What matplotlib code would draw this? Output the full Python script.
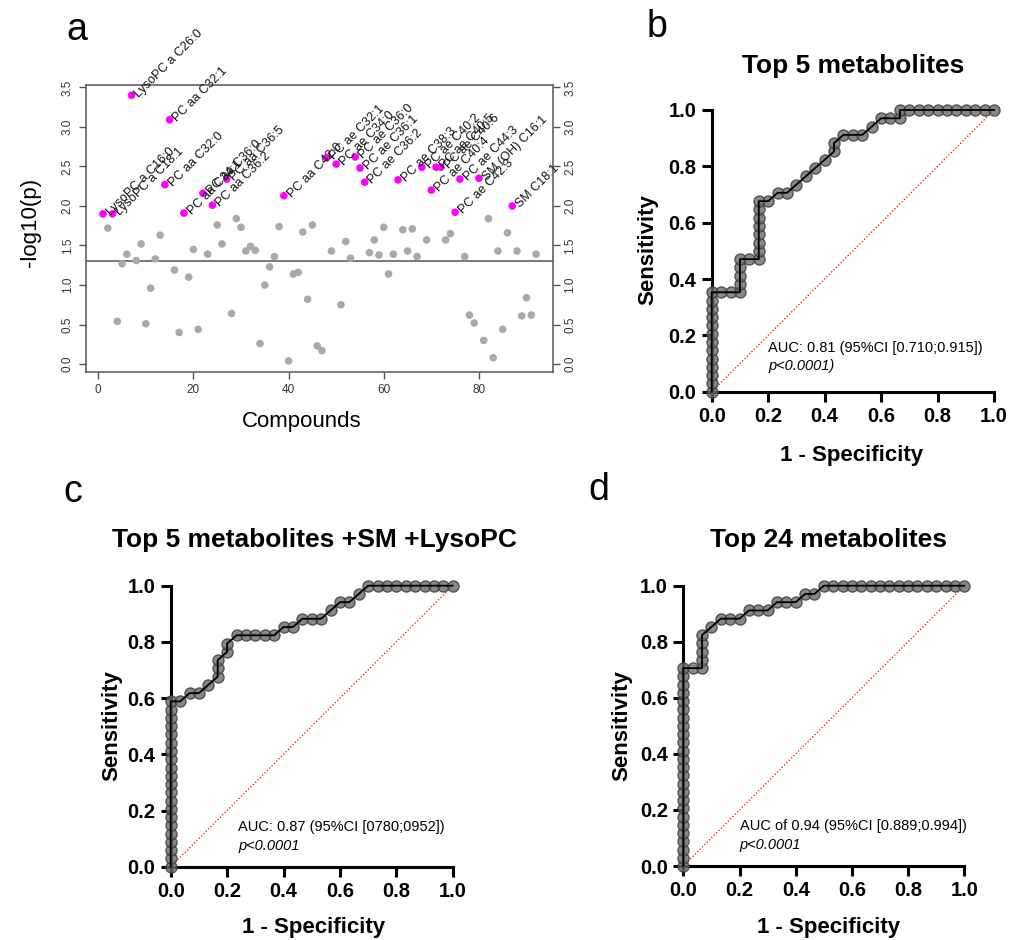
import numpy as np
import matplotlib.pyplot as plt
from matplotlib import font_manager

plt.rcParams['font.family'] = ['Liberation Sans', 'DejaVu Sans']

# ---- panel a: -log10(p) for compounds 1..92
neglog_p = [1.90, 1.72, 1.90, 0.54, 1.27, 1.39, 3.40, 1.31, 1.52, 0.51,
            0.96, 1.33, 1.63, 2.27, 3.09, 1.19, 0.40, 1.91, 1.10, 1.45,
            0.44, 2.16, 1.39, 2.01, 1.76, 1.52, 2.34, 0.64, 1.84, 1.73,
            1.43, 1.49, 1.44, 0.26, 1.00, 1.23, 1.36, 1.74, 2.13, 0.04,
            1.14, 1.16, 1.67, 0.82, 1.76, 0.23, 0.17, 2.61, 1.43, 2.53,
            0.75, 1.55, 1.34, 2.62, 2.48, 2.30, 1.41, 1.57, 1.38, 1.73,
            1.14, 1.39, 2.33, 1.70, 1.43, 1.71, 1.36, 2.49, 1.57, 2.20,
            2.49, 2.49, 1.57, 1.65, 1.92, 2.34, 1.36, 0.62, 0.52, 2.35,
            0.30, 1.84, 0.08, 1.43, 0.44, 1.66, 2.00, 1.43, 0.61, 0.84,
            0.62, 1.39]

hi_idx = [1, 3, 7, 14, 15, 18, 22, 24, 27, 39, 48, 50, 54, 55, 56, 63,
          68, 70, 71, 72, 75, 76, 80, 87]
hi_labels = ["LysoPC a C16:0", "LysoPC a C18:1", "LysoPC a C26:0",
             "PC aa C32:0", "PC aa C32:1", "PC aa C34:1", "PC aa C36:0",
             "PC aa C36:2", "PC aa C36:5", "PC aa C42:0", "PC ae C32:1",
             "PC ae C34:0", "PC ae C36:0", "PC ae C36:1", "PC ae C36:2",
             "PC ae C38:3", "PC ae C40:2", "PC ae C40:4", "PC ae C40:5",
             "PC ae C40:6", "PC ae C42:3", "PC ae C44:3", "SM (OH) C16:1",
             "SM C18:1"]

# ---- ROC curves (counts: 30 controls, 34 cases)
n_neg, n_pos = 30, 34

b_fp = [0, 0, 0, 0, 0, 0, 0, 0, 0, 0, 0, 0, 0, 1, 2, 3, 3, 3, 3, 3, 4, 5,
        5, 5, 5, 5, 5, 5, 5, 6, 7, 8, 9, 10, 11, 12, 13, 13, 14, 15, 16,
        17, 18, 19, 20, 20, 21, 22, 23, 24, 25, 26, 27, 28, 29, 30]
b_tp = [0, 1, 2, 3, 4, 5, 6, 7, 8, 9, 10, 11, 12, 12, 12, 12, 13, 14, 15,
        16, 16, 16, 17, 18, 19, 20, 21, 22, 23, 23, 24, 24, 25, 26, 27, 28,
        29, 30, 31, 31, 31, 32, 33, 33, 33, 34, 34, 34, 34, 34, 34, 34, 34,
        34, 34, 34]

c_fp = [0, 0, 0, 0, 0, 0, 0, 0, 0, 0, 0, 0, 0, 0, 0, 0, 0, 0, 0, 0, 0,
        1, 2, 3, 4, 5, 5, 5, 6, 6, 7, 8, 9, 10, 11, 12, 13, 14, 15, 16,
        17, 18, 19, 20, 21, 22, 23, 24, 25, 26, 27, 28, 29, 30]
c_tp = [0, 1, 2, 3, 4, 5, 6, 7, 8, 9, 10, 11, 12, 13, 14, 15, 16, 17, 18,
        19, 20, 20, 21, 21, 22, 23, 24, 25, 26, 27, 28, 28, 28, 28, 28, 29,
        29, 30, 30, 30, 31, 32, 32, 33, 34, 34, 34, 34, 34, 34, 34, 34, 34,
        34]

d_fp = [0, 0, 0, 0, 0, 0, 0, 0, 0, 0, 0, 0, 0, 0, 0, 0, 0, 0, 0, 0, 0, 0,
        0, 0, 0, 1, 2, 2, 2, 2, 2, 3, 4, 5, 6, 7, 8, 9, 10, 11, 12, 13, 14,
        15, 16, 17, 18, 19, 20, 21, 22, 23, 24, 25, 26, 27, 28, 29, 30]
d_tp = [0, 1, 2, 3, 4, 5, 6, 7, 8, 9, 10, 11, 12, 13, 14, 15, 16, 17, 18,
        19, 20, 21, 22, 23, 24, 24, 24, 25, 26, 27, 28, 29, 30, 30, 30, 31,
        31, 31, 32, 32, 32, 33, 33, 34, 34, 34, 34, 34, 34, 34, 34, 34, 34,
        34, 34, 34, 34, 34, 34]

# narrow font for the rotated compound labels if it is there
installed = {f.name for f in font_manager.fontManager.ttflist}
if 'Liberation Sans Narrow' in installed:
    lab_font, lab_size = 'Liberation Sans Narrow', 10.5
else:
    lab_font, lab_size = 'Liberation Sans', 9

W, H = 1022, 940
fig = plt.figure(figsize=(W / 100, H / 100), dpi=100)


def rect(x0, y0, x1, y1):
    # pixel box -> figure fraction
    return [x0 / W, 1 - y1 / H, (x1 - x0) / W, (y1 - y0) / H]


def ftext(x, y, s, **kw):
    fig.text(x / W, 1 - y / H, s, **kw)


# ---------------- panel a
ax = fig.add_axes(rect(85.7, 85, 552.7, 372))
idx = np.arange(1, len(neglog_p) + 1)
vals = np.array(neglog_p)
is_hi = np.isin(idx, hi_idx)
ax.scatter(idx[~is_hi], vals[~is_hi], s=30, c='#a9a9a9', edgecolors='none', zorder=3)
ax.scatter(idx[is_hi], vals[is_hi], s=30, c='#ff00ff', edgecolors='none', zorder=3)
ax.axhline(-np.log10(0.05), color='#555555', lw=1.1, zorder=2)
for i, lab in zip(hi_idx, hi_labels):
    ax.annotate(lab, (i, neglog_p[i - 1]), xytext=(4, 0), textcoords='offset points',
                rotation=45, rotation_mode='anchor', ha='left', va='center',
                fontsize=lab_size, family=[lab_font, 'DejaVu Sans'], color='#111111',
                annotation_clip=False)
ax.set_xlim(-2.64, 95.5)
ax.set_ylim(-0.10, 3.53)
ax.set_xticks([0, 20, 40, 60, 80])
ax.set_yticks(np.arange(0, 3.51, 0.5))
ax.set_yticklabels([f"{v:.1f}" for v in np.arange(0, 3.51, 0.5)])
ax.tick_params(axis='both', labelsize=8.5, colors='#555555', labelcolor='#333333',
               length=5, width=1)
ax.tick_params(axis='y', right=True, labelright=True, labelrotation=90)
for lab in ax.get_yticklabels():
    lab.set_va('center')
for sp in ax.spines.values():
    sp.set_color('#555555')
    sp.set_linewidth(1.1)
ftext(302, 422, 'Compounds', ha='center', va='center', fontsize=16)
ftext(30, 222, '-log10(p)', ha='center', va='center', rotation=90, fontsize=16)


# ---------------- ROC panels
def roc_panel(box, fp, tp, title, title_xy, ylab_xy, xlab_xy, auc_text, p_text, txt_x, txt_y):
    ax = fig.add_axes(rect(*box))
    x = np.array(fp) / n_neg
    y = np.array(tp) / n_pos
    ax.plot([0, 1], [0, 1], color='red', ls=':', lw=0.9, zorder=1)
    ax.plot(x, y, ls='none', marker='o', ms=8, mfc='#6a6a6a', mec='#3c3c3c',
            mew=1.0, alpha=0.8, clip_on=False, zorder=3)
    ax.plot(x, y, color='black', lw=1.3, clip_on=False, zorder=4)
    ax.set_xlim(0, 1)
    ax.set_ylim(0, 1)
    ticks = [0.0, 0.2, 0.4, 0.6, 0.8, 1.0]
    ax.set_xticks(ticks)
    ax.set_yticks(ticks)
    ax.set_xticklabels([f"{t:.1f}" for t in ticks], fontweight='bold')
    ax.set_yticklabels([f"{t:.1f}" for t in ticks], fontweight='bold')
    ax.tick_params(labelsize=14.5, length=7, width=2.2, pad=4)
    for s in ['top', 'right']:
        ax.spines[s].set_visible(False)
    for s in ['left', 'bottom']:
        ax.spines[s].set_linewidth(2.2)
    ax.text(txt_x, txt_y[0], auc_text, fontsize=10.5, va='center', ha='left')
    ax.text(txt_x, txt_y[1], p_text, fontsize=10.5, va='center', ha='left', style='italic')
    ftext(*title_xy, title, ha='center', va='center', fontsize=19, fontweight='bold')
    ftext(*ylab_xy, 'Sensitivity', ha='center', va='center', rotation=90,
          fontsize=16, fontweight='bold')
    ftext(*xlab_xy, '1 - Specificity', ha='center', va='center', fontsize=16, fontweight='bold')


roc_panel((711.7, 110, 994, 391.7), b_fp, b_tp, 'Top 5 metabolites', (853, 66),
          (648, 250), (852, 455), 'AUC: 0.81 (95%CI [0.710;0.915])', 'p<0.0001)',
          0.2, (0.154, 0.091))
roc_panel((170.7, 585.7, 452.7, 866.7), c_fp, c_tp, 'Top 5 metabolites +SM +LysoPC',
          (314, 540), (112, 726), (314, 928), 'AUC: 0.87 (95%CI [0780;0952])', 'p<0.0001',
          0.24, (0.142, 0.075))
roc_panel((683.3, 585.7, 964.3, 866), d_fp, d_tp, 'Top 24 metabolites',
          (828, 540), (622, 726), (829, 928), 'AUC of 0.94 (95%CI [0.889;0.994])', 'p<0.0001',
          0.2, (0.142, 0.075))

# panel letters
ftext(77, 30, 'a', ha='center', va='center', fontsize=27)
ftext(657, 27, 'b', ha='center', va='center', fontsize=27)
ftext(73, 492, 'c', ha='center', va='center', fontsize=27)
ftext(599, 490, 'd', ha='center', va='center', fontsize=27)

fig.savefig('out.png', dpi=100)
